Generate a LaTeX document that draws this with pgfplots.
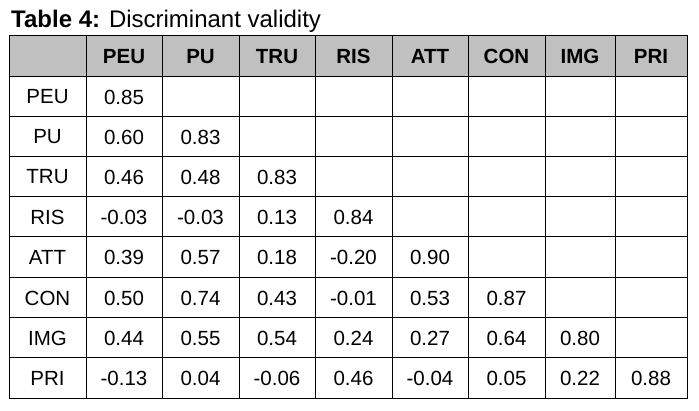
\documentclass[border=0pt]{standalone}
\usepackage{pgfplots}
\usepackage{pgfplotstable}
\pgfplotsset{compat=1.18}
\usepackage{fontspec}
\setmainfont{Liberation Sans}
\definecolor{headgray}{RGB}{192,192,192}

% cell positions in pixel units: x = column centre, y = row centre
\pgfplotstableread{
x y lab
124 56.5 PEU
200.5 56.5 PU
277 56.5 TRU
353.5 56.5 RIS
430 56.5 ATT
506.5 56.5 CON
580 56.5 IMG
651 56.5 PRI
}\header

\pgfplotstableread{
x y lab
47.5 97 PEU
47.5 137 PU
47.5 177 TRU
47.5 217 RIS
47.5 257.5 ATT
47.5 298 CON
47.5 338 IMG
47.5 378.5 PRI
}\rowlab

\pgfplotstableread{
x y lab
124 97 0.85
124 137 0.60
200.5 137 0.83
124 177 0.46
200.5 177 0.48
277 177 0.83
124 217 -0.03
200.5 217 -0.03
277 217 0.13
353.5 217 0.84
124 257.5 0.39
200.5 257.5 0.57
277 257.5 0.18
353.5 257.5 -0.20
430 257.5 0.90
124 298 0.50
200.5 298 0.74
277 298 0.43
353.5 298 -0.01
430 298 0.53
506.5 298 0.87
124 338 0.44
200.5 338 0.55
277 338 0.54
353.5 338 0.24
430 338 0.27
506.5 338 0.64
580 338 0.80
124 378.5 -0.13
200.5 378.5 0.04
277 378.5 -0.06
353.5 378.5 0.46
430 378.5 -0.04
506.5 378.5 0.05
580 378.5 0.22
651 378.5 0.88
}\cells

\begin{document}
\begin{tikzpicture}
\begin{axis}[
  scale only axis,
  width=678pt, height=363pt,
  xmin=9, xmax=687, ymin=36, ymax=399,
  y dir=reverse,
  clip=false,
  axis on top,
  xtick={86,162,239,315,392,468,545,615},
  ytick={77,117,157,197,237,278,318,358},
  xticklabels={}, yticklabels={},
  major tick length=0pt,
  grid=major,
  grid style={black, line width=1pt},
  axis line style={black, line width=1pt},
  nodes near coords align={center},
  every node near coord/.append style={font=\fontsize{20.5}{24}\selectfont, inner sep=0pt},
]
\path (axis cs:0,0) rectangle (axis cs:699,411);
\addplot[fill=headgray, draw=none] coordinates {(9,36) (687,36) (687,77) (9,77)} -- cycle;
\addplot[draw=none, mark=none, nodes near coords, point meta=explicit symbolic,
  every node near coord/.append style={font=\fontsize{20.5}{24}\selectfont\bfseries}]
  table[meta=lab] {\header};
\addplot[draw=none, mark=none, nodes near coords, point meta=explicit symbolic]
  table[meta=lab] {\rowlab};
\addplot[draw=none, mark=none, nodes near coords, point meta=explicit symbolic]
  table[meta=lab] {\cells};
\node[anchor=base west, inner sep=0pt, font=\fontsize{24}{28}\selectfont]
  at (axis cs:11,28) {\textbf{Table 4:} Discriminant validity};
\end{axis}
\end{tikzpicture}
\end{document}
